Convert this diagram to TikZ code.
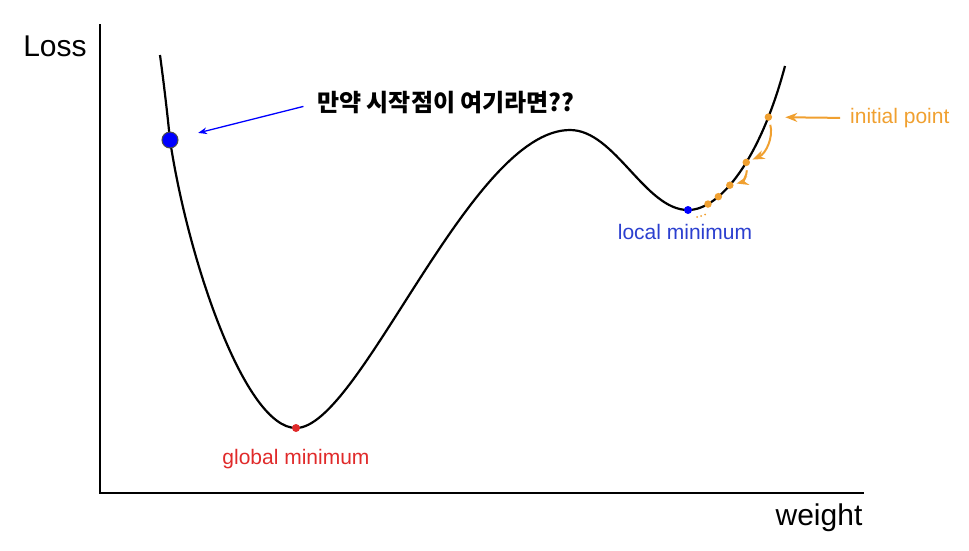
\documentclass[tikz,border=0pt]{standalone}
\usepackage{fontspec}
\setmainfont{Liberation Sans}
\newfontfamily\kofont{Noto Sans CJK KR}
\usetikzlibrary{arrows.meta}
\definecolor{lsorange}{HTML}{F0A030}
\definecolor{lsblue}{HTML}{2B3FCF}
\definecolor{lsred}{HTML}{E02A2A}

\begin{document}
\begin{tikzpicture}[x=1pt,y=-1pt,>=Stealth,
 axis/.style={line width=2pt},
 lbl/.style={inner sep=0pt,font=\fontsize{21}{25}\selectfont},
 big/.style={inner sep=0pt,font=\fontsize{30}{36}\selectfont},
 dot/.style={circle,inner sep=0pt,minimum size=#1}]
\useasboundingbox (0,0) rectangle (969,550);
% axes
\coordinate (ytop) at (100,24);
\coordinate (o) at (100,493);
\coordinate (xend) at (864,493);
\draw[axis] (ytop) -- (o) -- (xend);
\node[big] (loss) at (55,46) {Loss};
\node[big] (weight) at (819,518) {weight};
% loss curve
\draw[line width=2.2pt] (160,55) .. controls (164,85) and (167,110) .. (170,140) coordinate (start)
 .. controls (188,260) and (245,428) .. (296,428) coordinate (gmin)
 .. controls (360,428) and (470,130) .. (570,130)
 .. controls (615,130) and (645,210) .. (688,210) coordinate (lmin)
 .. controls (720,210) and (760,160) .. (785,66)
 coordinate[pos=.8] (s1) coordinate[pos=.57] (s2) coordinate[pos=.41] (s3)
 coordinate[pos=.3] (s4) coordinate[pos=.2] (s5);
% points
\node[dot=16pt,fill=blue,draw=black!70,line width=1pt] (sdot) at (start) {};
\node[dot=8pt,fill=lsred] (gdot) at (gmin) {};
\node[dot=8pt,fill=blue] (ldot) at (lmin) {};
\foreach \i in {1,...,5}
 \node[dot=7.5pt,fill=lsorange] (o\i) at (s\i) {};
\foreach \x/\y in {697/217,701/216,705/214.5}
 \fill[lsorange] (\x,\y) circle (1pt);
% labels
\node[lbl,text=lsred] (glbl) at (296,459) {global minimum};
\node[lbl,text=lsblue] (llbl) at (685,232) {local minimum};
\node[lbl,text=lsorange,anchor=west] (ilbl) at (850,118) {initial point};
\node[inner sep=0pt,anchor=west,font=\kofont\bfseries\fontsize{24}{28}\selectfont] (ask) at (317,103) {만약 시작점이 여기라면??};
% arrows
\draw[->,blue,line width=1.3pt,shorten <=14pt,shorten >=29pt] (ask.west) -- (sdot.center);
\draw[->,lsorange,line width=2pt,shorten <=10pt,shorten >=13pt] (ilbl.west) -- (o1);
\draw[->,lsorange,line width=2pt,shorten <=4pt,shorten >=3pt] (o1) to[bend left=40] (o2);
\draw[->,lsorange,line width=2pt,shorten <=4pt,shorten >=3pt] (o2) to[bend left=40] (o3);
\end{tikzpicture}
\end{document}
